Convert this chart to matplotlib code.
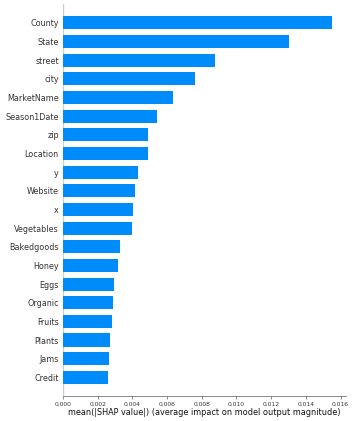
import numpy as np
import matplotlib.pyplot as plt

features = ['County', 'State', 'street', 'city', 'MarketName', 'Season1Date', 'zip',
            'Location', 'y', 'Website', 'x', 'Vegetables', 'Bakedgoods', 'Honey',
            'Eggs', 'Organic', 'Fruits', 'Plants', 'Jams', 'Credit']
shap_vals = [0.01552, 0.01304, 0.00874, 0.00762, 0.00634, 0.00539, 0.00489,
             0.00490, 0.00431, 0.00414, 0.00406, 0.00397, 0.00327, 0.00319,
             0.00295, 0.00289, 0.00283, 0.00270, 0.00266, 0.00262]

fig = plt.figure(figsize=(3.54, 4.21), dpi=100)
ax = fig.add_axes([0.178, 0.0594, 0.7986, 0.9306])

n = len(features)
ypos = np.arange(n)[::-1]
ax.barh(ypos, shap_vals, height=0.7, color='#008bfb', align='center')
ax.axvline(0, color='#cccccc', linewidth=1, zorder=-1)

ax.set_ylim(-1, n)
ax.set_yticks(ypos)
ax.set_yticklabels(features, fontsize=5.8, color='#333333')
ticks = np.arange(0, 0.0161, 0.002)
ax.set_xticks(ticks)
ax.set_xticklabels(['%.3f' % v for v in ticks])
ax.tick_params(axis='x', labelsize=4.3, labelcolor='#333333', color='#777777',
               length=2.5, width=0.6, pad=1.5)
ax.tick_params(axis='y', length=0, pad=3)
ax.spines['right'].set_visible(False)
ax.spines['top'].set_visible(False)
ax.spines['left'].set_visible(False)
ax.spines['bottom'].set_color('#777777')
ax.spines['bottom'].set_linewidth(0.6)
ax.set_xlabel('mean(|SHAP value|) (average impact on model output magnitude)',
              fontsize=5.9, color='#111111', labelpad=1)

fig.savefig('out.png', dpi=100)
